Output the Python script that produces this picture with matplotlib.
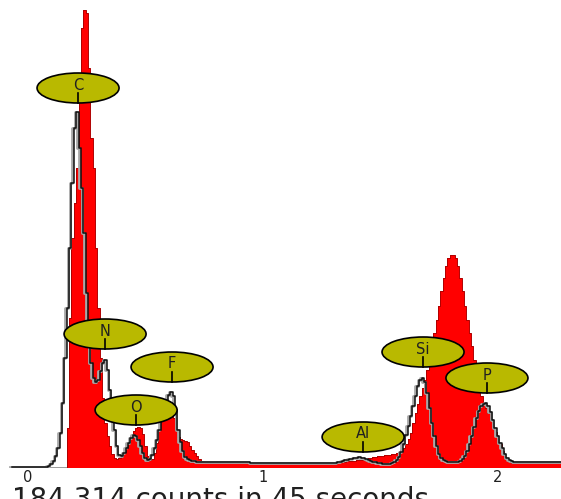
#!/usr/bin/env python3
"""
EDS spectrum: red filled spectrum with a second spectrum overlaid as a line,
plus the element markers (C, N, O, F, Al, Si, P).
"""

import numpy as np
import matplotlib
matplotlib.use("Agg")
import matplotlib.pyplot as plt
import matplotlib.transforms as mtransforms
from matplotlib.patches import Ellipse

# Channel energies in keV (10 eV per channel), from -0.07 to 2.27
energy = np.round(np.arange(-7, 228) * 0.01, 2)

# Filled (red) spectrum, counts per channel
red_counts = [
    0, 0, 0, 0, 0, 0, 0,                                # -0.07
    0, 0, 0, 0, 0, 0, 0, 0, 0, 0,                       # 0.00
    0, 0, 0, 0, 0, 0, 0, 40, 150, 230,                  # 0.10
    265, 300, 370, 440, 458, 455, 400, 330, 300, 220,   # 0.20
    160, 110, 70, 45, 32, 22, 14, 10, 9, 10,            # 0.30
    12, 16, 20, 26, 32, 37, 40, 41, 40, 34,             # 0.40
    22, 12, 8, 9, 15, 25, 38, 52, 62, 68,               # 0.50
    67, 60, 50, 38, 31, 29, 28, 27, 26, 22,             # 0.60
    18, 15, 12, 9, 7, 6, 5, 5, 5, 5,                    # 0.70
    5, 5, 5, 5, 5, 5, 5, 5, 5, 5,                       # 0.80
    5, 5, 5, 5, 5, 5, 5, 5, 5, 5,                       # 0.90
    5, 5, 5, 5, 5, 5, 5, 5, 5, 5,                       # 1.00
    5, 5, 5, 5, 5, 5, 5, 5, 5, 5,                       # 1.10
    5, 5, 5, 5, 5, 5, 5, 5, 5, 5,                       # 1.20
    5, 5, 6, 6, 6, 6, 7, 7, 7, 7,                       # 1.30
    8, 8, 8, 9, 9, 10, 10, 11, 11, 12,                  # 1.40
    12, 12, 13, 13, 13, 14, 14, 15, 16, 18,             # 1.50
    20, 24, 29, 35, 45, 55, 64, 72, 80, 88,             # 1.60
    98, 110, 122, 135, 148, 162, 177, 190, 202, 210,    # 1.70
    213, 213, 210, 202, 190, 177, 162, 148, 135, 122,   # 1.80
    108, 95, 82, 72, 64, 60, 55, 48, 42, 36,            # 1.90
    29, 24, 17, 11, 8, 6, 5, 5, 5, 5,                   # 2.00
    5, 5, 5, 5, 5, 5, 5, 5, 5, 5,                       # 2.10
    5, 5, 5, 5, 5, 5, 5, 5,                             # 2.20
]

# Overlaid (line) spectrum
line_counts = [
    1, 1, 1, 1, 1, 1, 1,                                # -0.07
    1, 1, 1, 1, 1, 1, 1, 1, 1, 2,                       # 0.00
    4, 7, 12, 20, 35, 65, 110, 160, 220, 285,           # 0.10
    340, 356, 320, 280, 235, 175, 135, 105, 90, 86,     # 0.20
    88, 97, 105, 108, 98, 78, 58, 38, 22, 13,           # 0.30
    12, 15, 20, 25, 30, 33, 32, 28, 22, 15,             # 0.40
    10, 8, 9, 13, 20, 28, 38, 48, 58, 66,               # 0.50
    73, 76, 72, 58, 38, 26, 17, 11, 9, 8,               # 0.60
    7, 7, 6, 6, 6, 6, 6, 6, 6, 6,                       # 0.70
    6, 6, 6, 6, 6, 6, 6, 6, 6, 6,                       # 0.80
    6, 6, 6, 6, 6, 5, 5, 5, 5, 5,                       # 0.90
    5, 5, 5, 5, 5, 5, 5, 5, 5, 5,                       # 1.00
    5, 5, 5, 5, 5, 5, 5, 5, 5, 5,                       # 1.10
    5, 5, 5, 5, 5, 5, 5, 5, 5, 5,                       # 1.20
    5, 5, 6, 6, 7, 8, 8, 9, 9, 10,                      # 1.30
    10, 11, 10, 10, 9, 8, 7, 6, 6, 5,                   # 1.40
    5, 4, 4, 4, 4, 5, 6, 8, 11, 16,                     # 1.50
    24, 33, 42, 52, 62, 72, 82, 88, 90, 86,             # 1.60
    75, 60, 45, 32, 22, 14, 10, 8, 7, 6,                # 1.70
    6, 6, 6, 6, 7, 9, 12, 17, 24, 32,                   # 1.80
    41, 50, 57, 62, 64, 65, 62, 56, 48, 40,             # 1.90
    32, 25, 20, 14, 10, 8, 7, 6, 6, 6,                  # 2.00
    6, 6, 6, 6, 6, 6, 6, 6, 6, 6,                       # 2.10
    6, 6, 6, 6, 6, 6, 6, 6,                             # 2.20
]

# Element markers: name, marker energy (keV), label height (counts)
elements = ["C", "N", "F", "O", "Al", "Si", "P"]
element_kev = [0.213, 0.328, 0.613, 0.460, 1.426, 1.681, 1.953]
label_height = [380, 134, 101, 58, 31, 116, 90]

x_ticks = [0, 1, 2]
caption = "184,314 counts in 45 seconds"


def main():
    fig = plt.figure(figsize=(5.61, 4.99), dpi=100)
    # one keV is 235 px wide, one count is one px high
    ax = fig.add_axes([0, 31 / 499, 1, 468 / 499])
    ax.set_xlim(-28 / 235, 533 / 235)
    ax.set_ylim(0, 468)
    ax.axis("off")

    # baseline
    ax.plot([-0.068, 2.28], [0, 0], color="#8a8a8a", lw=1.2, zorder=1)

    # red spectrum
    ax.fill_between(energy, red_counts, step="mid", color="#ff0000", lw=0, zorder=2)
    ax.step(energy, red_counts, where="mid", color="#b00000", lw=0.7, zorder=3)

    # second spectrum as a black line with a grey shadow
    shadow = mtransforms.offset_copy(ax.transData, fig=fig, x=-1.5, y=0,
                                     units="dots")
    ax.step(energy, line_counts, where="mid", color="#a8a8a8", lw=2.0,
            transform=shadow, zorder=5)
    ax.step(energy, line_counts, where="mid", color="#101010", lw=1.1, zorder=6)

    # element labels
    ell_w = 82 / 235
    ell_h = 30
    for name, kev, h in zip(elements, element_kev, label_height):
        ax.add_patch(Ellipse((kev, h), ell_w, ell_h, facecolor="#b9b900",
                             edgecolor="black", lw=1.2, zorder=10))
        ax.text(kev, h + 3, name, ha="center", va="center", fontsize=10.5,
                color="#202020", zorder=11)
        ax.plot([kev, kev], [h - 5, h - ell_h / 2], color="black", lw=1.2,
                zorder=11)

    # tick labels and caption
    for t in x_ticks:
        ax.text(t, -10, str(t), ha="center", va="center", fontsize=10.5,
                color="#202020", clip_on=False)
    ax.text(-0.068, -40, caption, ha="left", va="baseline", fontsize=20,
            color="#202020", clip_on=False)

    fig.savefig("out.png", dpi=100)


if __name__ == "__main__":
    main()
